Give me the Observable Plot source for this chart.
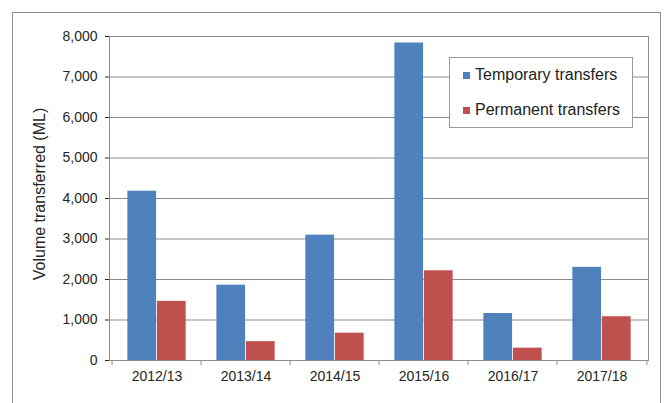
<!DOCTYPE html>
<html><head><meta charset="utf-8">
<script src="https://cdn.jsdelivr.net/npm/d3@7"></script>
<script src="https://cdn.jsdelivr.net/npm/@observablehq/plot@0.6"></script>
<style>
body{margin:0;background:#fff;font-family:"Liberation Sans",Arial,sans-serif;}
#wrap{position:relative;width:664px;height:403px;overflow:hidden;background:#fff;}
#frame{position:absolute;left:12px;top:12px;width:647px;height:400px;border:1px solid #8c8c8c;border-bottom:none;pointer-events:none;}
#legend{position:absolute;left:449px;top:57px;width:182px;height:69px;border:1px solid #9a9a9a;background:#fff;font-size:16px;color:#222;}
#legend .item{position:absolute;left:13px;white-space:nowrap;line-height:20px;}
#legend .sw{display:inline-block;width:7px;height:7px;margin-right:5px;vertical-align:1px;}
</style>
</head><body>
<div id="wrap"><div id="chart"></div><div id="legend"></div><div id="frame"></div></div>
<script>
const years = ["2012/13", "2013/14", "2014/15", "2015/16", "2016/17", "2017/18"];
const temporary = [4180, 1860, 3095, 7840, 1160, 2300];
const permanent = [1460, 465, 675, 2215, 305, 1080];
const seriesNames = ["Temporary transfers", "Permanent transfers"];
const seriesColors = ["#4f81bd", "#c0504d"];
const yTicks = [0, 1000, 2000, 3000, 4000, 5000, 6000, 7000, 8000];
const yLabel = "Volume transferred (ML)";

const tempRows = years.map((year, i) => ({year, value: temporary[i]}));
const permRows = years.map((year, i) => ({year, value: permanent[i]}));

const W = 664, H = 403, mL = 109, mR = 16, mT = 36, mB = 43;
const bw = (W - mL - mR) / years.length;
const grid = "#8c8c8c";

const chart = Plot.plot({
  width: W, height: H,
  marginLeft: mL, marginRight: mR, marginTop: mT, marginBottom: mB,
  style: {background: "transparent", fontFamily: "Liberation Sans, Arial, sans-serif", fontSize: "14px", color: "#262626"},
  x: {domain: years, padding: 0, tickSize: 0, tickPadding: 11, label: null},
  y: {domain: [0, 8000], ticks: yTicks, tickFormat: d3.format(","), tickSize: 4, tickPadding: 8, label: null},
  marks: [
    Plot.ruleY(yTicks, {stroke: grid}),
    Plot.barY(tempRows, {x: "year", y: "value", fill: seriesColors[0], insetLeft: bw * 0.171, insetRight: bw * 0.5}),
    Plot.barY(permRows, {x: "year", y: "value", fill: seriesColors[1], insetLeft: bw * 0.5, insetRight: bw * 0.171}),
    Plot.frame({stroke: grid}),
    Plot.ruleX(years, {x: d => d, dx: -bw / 2, y1: 0, y2: 0, insetBottom: -5, stroke: grid}),
    Plot.ruleX([years[years.length - 1]], {x: d => d, dx: bw / 2, y1: 0, y2: 0, insetBottom: -5, stroke: grid}),
    Plot.text([yLabel], {text: d => d, frameAnchor: "left", textAnchor: "middle", rotate: -90, dx: -70, dy: -4.5, fontSize: 16, fill: "#262626"})
  ]
});
document.getElementById("chart").appendChild(chart);

const legend = document.getElementById("legend");
seriesNames.forEach((name, i) => {
  const item = document.createElement("div");
  item.className = "item";
  item.style.top = (7 + i * 35) + "px";
  const sw = document.createElement("span");
  sw.className = "sw";
  sw.style.background = seriesColors[i];
  item.appendChild(sw);
  item.appendChild(document.createTextNode(name));
  legend.appendChild(item);
});
</script>
</body></html>
